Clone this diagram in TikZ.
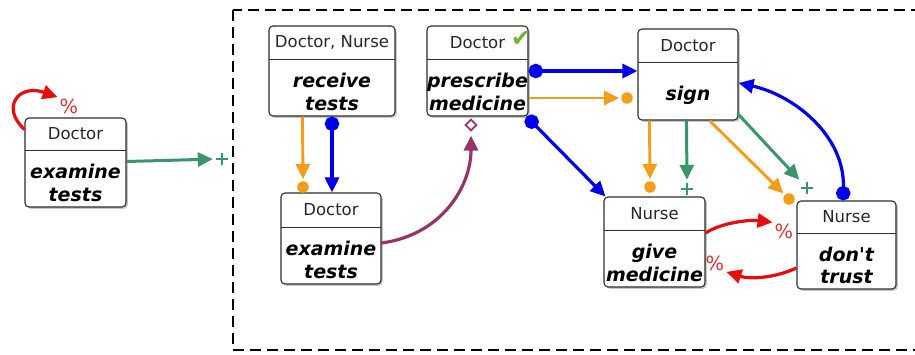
\documentclass[tikz,border=0pt]{standalone}
\usepackage{fontspec}
\setmainfont{DejaVu Sans}
\usetikzlibrary{arrows.meta,shapes.geometric,shadows,fit,calc}

\definecolor{flowblue}{RGB}{0,0,232}
\definecolor{floworange}{RGB}{243,157,25}
\definecolor{flowgreen}{RGB}{58,150,104}
\definecolor{flowred}{RGB}{232,12,12}
\definecolor{pctred}{RGB}{214,52,52}
\definecolor{flowpurple}{RGB}{150,52,104}
\definecolor{checkgreen}{RGB}{118,178,52}
\definecolor{boxline}{RGB}{45,45,45}

\tikzset{
  actframe/.style={draw=boxline, line width=1.1pt, rounded corners=4pt, fill=white,
    inner sep=0pt, drop shadow={shadow xshift=1.8pt, shadow yshift=-1.8pt, opacity=0.22, fill=black}},
  divline/.style={draw=boxline, line width=1pt},
  roletext/.style={font=\fontsize{16.5}{19}\selectfont, text=black!85, inner sep=0pt},
  acttext/.style={font=\fontsize{19}{22.5}\selectfont\bfseries\itshape, align=center, inner sep=0pt},
  tri/.tip={Triangle[length=15pt, width=14pt]},
  dot/.tip={Circle[length=14.5pt]},
  blueflow/.style={draw=flowblue, line width=3.2pt, dot-tri},
  orangeflow/.style={draw=floworange, line width=2.9pt, -tri, shorten >=2pt},
  greenflow/.style={draw=flowgreen, line width=3pt, -tri, shorten >=3pt},
  redflow/.style={draw=flowred, line width=3.2pt, -tri, shorten >=1pt},
  purpleflow/.style={draw=flowpurple, line width=3.2pt, -tri, shorten >=4pt},
  orangedot/.style={circle, fill=floworange, minimum size=11.5pt, inner sep=0pt},
  plusmark/.style={minimum size=12pt, inner sep=0pt,
    path picture={\draw[flowgreen, line width=1.4pt]
      (path picture bounding box.north) -- (path picture bounding box.south)
      (path picture bounding box.west) -- (path picture bounding box.east);}},
  pctmark/.style={font=\fontsize{19.5}{21}\selectfont, text=pctred, inner sep=1pt},
  diamondmark/.style={diamond, draw=flowpurple, line width=1.7pt, fill=white,
    minimum size=11.5pt, inner sep=0pt},
  dashframe/.style={draw=black, line width=2.2pt, dash pattern=on 11pt off 6pt},
}

% name, left, top, right, bottom, divider, role, activity
\newcommand\activitybox[8]{%
  \node[actframe, fit={(#2,#3) (#4,#5)}] (#1) {};
  \draw[divline] (#2,#6) -- (#4,#6);
  \node[roletext] (#1-role) at ($(#2,#3)!0.5!(#4,#6)$) {#7};
  \node[acttext] (#1-act) at ($(#2,#6)!0.5!(#4,#5)+(0,4.5)$) {#8};
}

\begin{document}
\begin{tikzpicture}[x=1pt, y=-1pt]
\clip (0,0) rectangle (915,354);
\fill[white] (0,0) rectangle (915,354);

% group frame
\draw[dashframe] (233,10) rectangle (960,350);

% activities
\activitybox{ex1}{25}{118}{126}{207}{150}{Doctor}{examine\\tests}
\activitybox{rec}{269}{26}{395}{116}{59}{Doctor, Nurse}{receive\\tests}
\activitybox{pre}{427}{26}{528}{116}{59}{Doctor}{prescribe\\medicine}
\activitybox{sig}{638}{29}{738}{120}{62}{Doctor}{sign}
\activitybox{ex2}{281}{193}{381}{284}{227}{Doctor}{examine\\tests}
\activitybox{giv}{604}{197}{705}{287}{230}{Nurse}{give\\medicine}
\activitybox{dtr}{797}{201}{896}{289}{233}{Nurse}{don\textquotesingle t\\trust}

\node[font=\fontsize{24}{26}\selectfont, text=checkgreen, inner sep=0pt] (ck) at (521,39) {✔};

% end markers
\node[pctmark] (pc0) at (69,106) {\%};
\node[plusmark] (gp0) at (222,159) {};
\node[orangedot] (od1) at (303,187) {};
\node[diamondmark] (pd) at (471,125) {};
\node[orangedot] (od2) at (627,98) {};
\node[orangedot] (od3) at (650,187) {};
\node[plusmark] (gp1) at (687,189) {};
\node[orangedot] (od4) at (789,199) {};
\node[plusmark] (gp2) at (807,188) {};
\node[pctmark] (pc1) at (784,231) {\%};
\node[pctmark] (pc2) at (715,263) {\%};

% connectors
\draw[redflow] ($(ex1.north west)+(0,12)$) .. controls +(-24,-22) and +(-40,-14) .. (pc0.north west);
\draw[greenflow] ($(ex1.east)+(0,-1)$) -- (gp0.west);

\draw[orangeflow] ($(rec.south west)+(34,0)$) -- (od1.north);
\draw[blueflow] (rec.south) -- (rec.south |- ex2.north);
\draw[purpleflow] ($(ex2.east)+(0,4.5)$) .. controls +(60,-8) and +(0,55) .. (pd.south);

\draw[blueflow] (pre.east) -- (pre.east -| sig.west);
\draw[orangeflow] ($(pre.east)+(0,27)$) -- (od2.west);
\draw[blueflow] ($(pre.south east)+(-2,0)$) -- ($(giv.north west)+(2,0)$);

\draw[orangeflow] ($(sig.south west)+(12,0)$) -- (od3.north);
\draw[greenflow] ($(sig.south west)+(49,0)$) -- (gp1.north);
\draw[orangeflow] ($(sig.south west)+(72,0)$) -- (od4);
\draw[greenflow] ($(sig.south east)+(-1,-7)$) -- (gp2);

\draw[blueflow] ($(dtr.north)+(-3.5,0)$) .. controls +(2,-65) and +(55,12) .. ($(sig.east)+(0,8.5)$);

\draw[redflow] ($(giv.east)+(0,-9)$) .. controls +(15,-10) and +(-25,-3) .. (pc1.north west);
\draw[redflow] ($(dtr.west)+(0,23)$) .. controls +(-22,10) and +(25,8) .. (pc2.south east);
\end{tikzpicture}
\end{document}
